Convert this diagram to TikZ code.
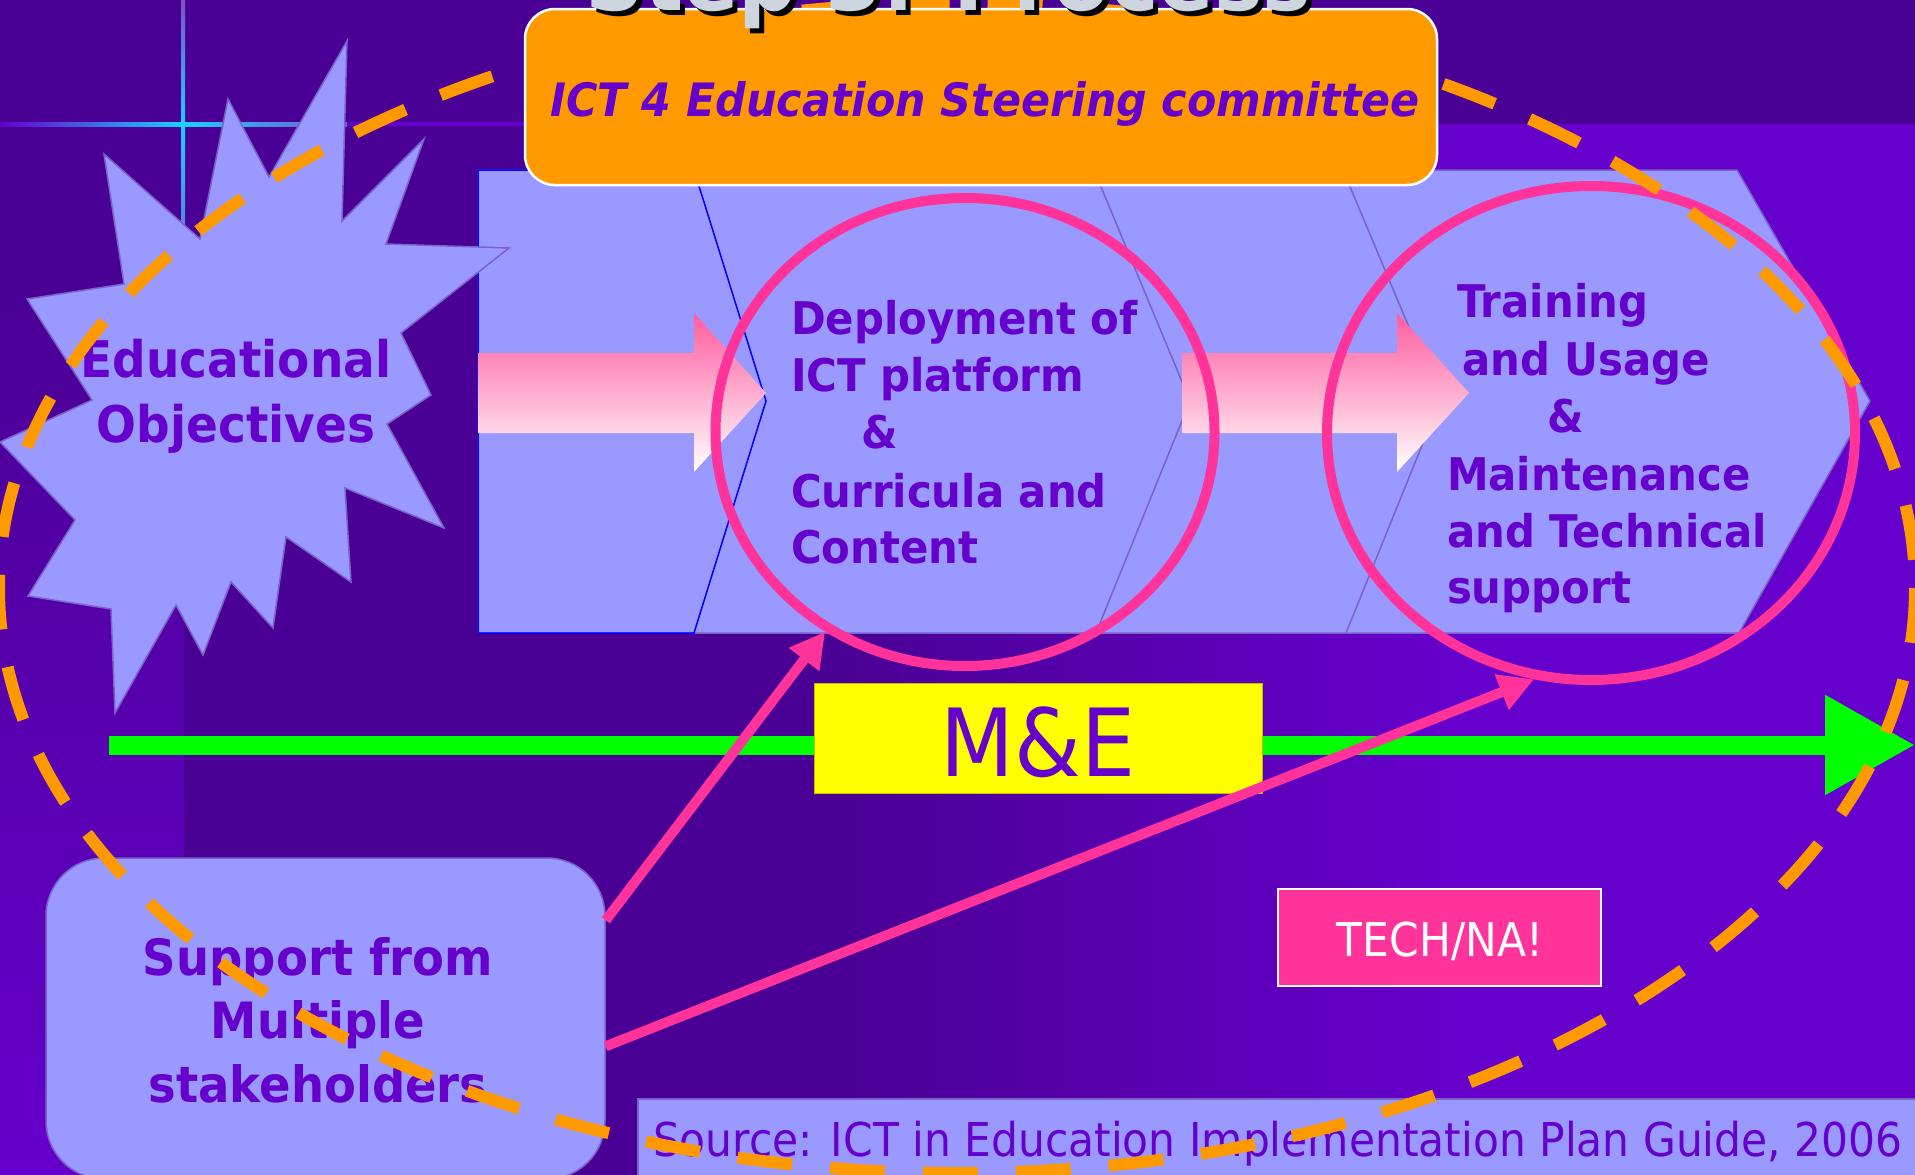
\documentclass[tikz,border=0pt]{standalone}
\usepackage{fontspec}
\usetikzlibrary{arrows.meta,shapes.geometric,calc}
\newfontfamily\fb[FakeStretch=0.93]{DejaVu Sans}
\newfontfamily\fr[FakeStretch=0.91]{DejaVu Sans}
\definecolor{bgdark}{HTML}{4B0095}
\definecolor{bgbright}{HTML}{6600CC}
\definecolor{txt}{HTML}{6600CC}
\definecolor{peri}{HTML}{9999FF}
\definecolor{edgec}{HTML}{7A62C8}
\definecolor{hot}{HTML}{FF3399}
\definecolor{orng}{HTML}{FF9900}
\definecolor{grn}{HTML}{00FF00}
\definecolor{ylw}{HTML}{FFFF00}
\definecolor{pinktop}{HTML}{FF5C9E}
\definecolor{ttl}{HTML}{CDD6DE}
\definecolor{glow}{HTML}{1AD1FF}
\definecolor{lineg}{HTML}{7B52C4}
\definecolor{chevblue}{HTML}{0000FF}
\begin{document}
\begin{tikzpicture}[x=1pt,y=-1pt,
  btxt/.style={inner sep=0pt, outer sep=0pt, text=txt, font=\fb\bfseries\fontsize{#1}{#1}\selectfont},
  rtxt/.style={inner sep=0pt, outer sep=0pt, text=txt, font=\fr\fontsize{#1}{#1}\selectfont},
  ring/.style={ellipse, draw=hot, line width=10pt, inner sep=0pt},
  panel/.style={draw=edgec, fill=peri, line width=1.5pt, inner sep=0pt},
  blockarrow/.style={top color=pinktop, bottom color=white},
  link/.style={hot, line width=10pt, -{Triangle[length=35pt,width=36pt]}}
]
\useasboundingbox (0,0) rectangle (1915,1175);
% background
\fill[bgdark] (0,0) rectangle (1915,1175);
\shade[left color=bgdark, right color=bgbright] (850,124) rectangle (1450,1175);
\fill[bgbright] (1449,124) rectangle (1915,1175);
\shade[top color=bgdark, bottom color=bgbright] (0,300) rectangle (184,1175);
% crosshair
\shade[left color=bgbright, right color=glow] (0,122) rectangle (183,126);
\shade[left color=glow, right color=lineg] (183,122) rectangle (347,126);
\fill[bgbright] (347,122) rectangle (1437,126);
\shade[top color=lineg, bottom color=glow] (181,0) rectangle (185,124);
\shade[top color=glow, bottom color=lineg] (181,124) rectangle (185,300);
% chevron band
\filldraw[fill=peri, draw=edgec, line width=1.5pt] (478,170) -- (1737,170) -- (1870,401) -- (1739,633) -- (478,633) -- cycle;
\draw[chevblue, line width=1.5pt] (478,170) -- (694,170) -- (766,401) -- (694,633) -- (478,633) -- cycle;
\draw[edgec, line width=1.5pt] (1094,170) -- (1190,401) -- (1096,633);
\draw[edgec, line width=1.5pt] (1343,170) -- (1440,401) -- (1346,633);
% star
\filldraw[fill=peri, draw=edgec, line width=1.5pt] (347,41) -- (342,221) -- (424,139) -- (386,244) -- (509,248) -- (401,333) -- (431,395) -- (387,424) -- (444,528) -- (345,488) -- (351,582) -- (286,537) -- (273,628) -- (231,582) -- (203,655) -- (176,605) -- (115,713) -- (111,609) -- (28,596) -- (75,520) -- (0,442) -- (92,400) -- (27,299) -- (124,284) -- (104,154) -- (200,239) -- (228,99) -- (269,177) -- cycle;
\node[btxt=50.5, anchor=base] (eo1) at (236,377) {Educational};
\node[btxt=50.5, anchor=base] (eo2) at (236,442) {Objectives};
% block arrows
\shade[blockarrow] (478,353) -- (694,353) -- (694,313) -- (766,393) -- (694,472) -- (694,433) -- (478,433) -- cycle;
\shade[blockarrow] (1182,353) -- (1397,353) -- (1397,313) -- (1469,393) -- (1397,472) -- (1397,433) -- (1182,433) -- cycle;
% texts in circles
\node[btxt=45, anchor=base west] (d1) at (791,334) {Deployment of};
\node[btxt=45, anchor=base west] (d2) at (791,391) {ICT platform};
\node[btxt=45, anchor=base west] (d3) at (861,448) {\&};
\node[btxt=45, anchor=base west] (d4) at (791,507) {Curricula and};
\node[btxt=45, anchor=base west] (d5) at (791,563) {Content};
\node[btxt=45, anchor=base west] (t1) at (1457,317) {Training};
\node[btxt=45, anchor=base west] (t2) at (1462,375) {and Usage};
\node[btxt=45, anchor=base west] (t3) at (1547,432) {\&};
\node[btxt=45, anchor=base west] (t4) at (1447,490) {Maintenance};
\node[btxt=45, anchor=base west] (t5) at (1447,547) {and Technical};
\node[btxt=45, anchor=base west] (t6) at (1447,603) {support};
% rings
\node[ring, minimum width=499pt, minimum height=468pt] (e1) at (965,432) {};
\node[ring, minimum width=528pt, minimum height=494pt] (e2) at (1591,433) {};
% green timeline
\coordinate (gs) at (109,745);
\coordinate (ge) at (1915,745);
\draw[grn, line width=19pt, -{Triangle[length=90pt,width=95pt]}] (gs) -- (ge);
% M&E
\node[fill=ylw, draw=ylw!75!black, line width=1pt, minimum width=448pt, minimum height=110pt, inner sep=0pt] (me) at (1038,738) {};
\node[rtxt=94, anchor=base] (metxt) at (1038,776) {M\&E};
% support box
\node[panel, rounded corners=58pt, minimum width=559pt, minimum height=321pt] (sup) at (325.5,1018.5) {};
\node[btxt=50, anchor=base] (s1) at (318,975) {Support from};
\node[btxt=50, anchor=base] (s2) at (318,1038) {Multiple};
\node[btxt=50, anchor=base] (s3) at (318,1102) {stakeholders};
% source box
\node[panel, minimum width=1300pt, minimum height=100pt, anchor=north west] (src) at (637,1098) {};
\node[rtxt=46.6, anchor=base west] (srctxt) at (653,1156) {Source: ICT in Education Implementation Plan Guide, 2006};
% TECH/NA!
\node[fill=hot, draw=white, line width=2pt, minimum width=323pt, minimum height=97pt, inner sep=0pt] (tech) at (1439.5,937.5) {};
\node[rtxt=46.6, text=white, anchor=base] (techtxt) at (1440,956) {TECH/NA!};
% connectors
\draw[link] ([yshift=-63pt]sup.north east) -- (e1.235);
\draw[link] ([yshift=-189pt]sup.north east) -- (e2.257);
% dashed orange ellipse
\draw[orng, line width=12pt, dash pattern=on 55pt off 38pt] (957,588) ellipse [x radius=958, y radius=585];
% steering committee box
\node[fill=orng, draw=white, line width=2.5pt, rounded corners=30pt, minimum width=912pt, minimum height=176pt, inner sep=0pt] (steer) at (981,97) {};
\node[btxt=46, font=\fb\bfseries\itshape\fontsize{46}{46}\selectfont, anchor=base] (steertxt) at (985,116) {ICT 4 Education Steering committee};
% cut-off title with its shadow in one node
\node[anchor=base west, inner sep=0pt, text=ttl, font=\fb\bfseries\fontsize{88}{88}\selectfont] (ttlx) at (585,10) {\makebox[0pt][l]{\hspace{5pt}\raisebox{-5pt}{\color{black}Step 3: Process}}Step 3: Process};
\end{tikzpicture}
\end{document}
